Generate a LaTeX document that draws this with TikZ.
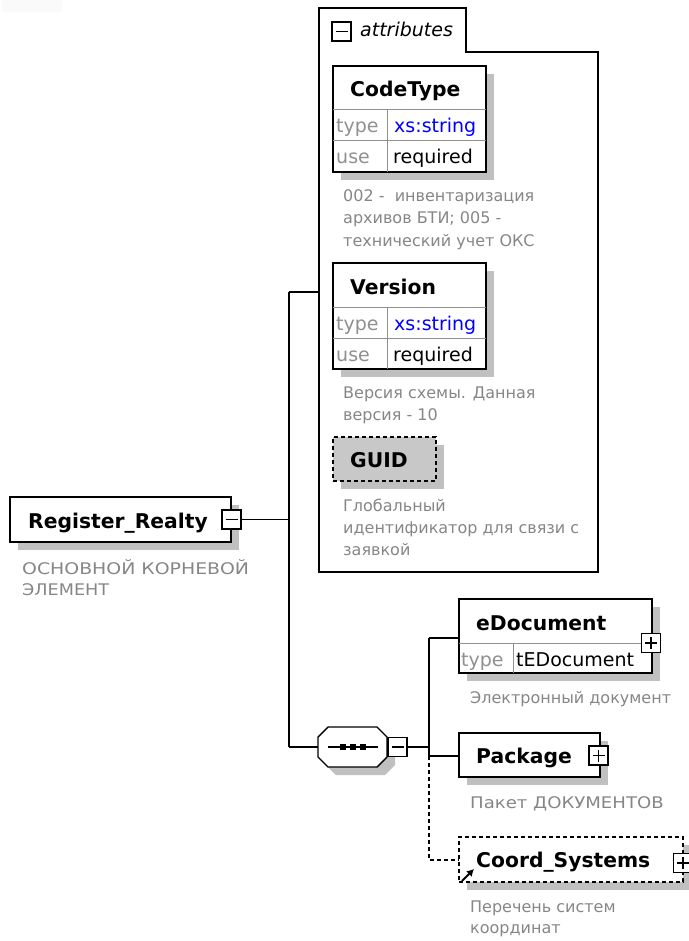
\documentclass[tikz,border=0pt]{standalone}
\usepackage{fontspec}
\setmainfont{DejaVu Sans}
\usetikzlibrary{shadows,arrows.meta}
\definecolor{shadowgray}{HTML}{C0C0C0}
\definecolor{guidgray}{HTML}{C8C8C8}
\definecolor{descgray}{HTML}{868686}
\definecolor{innergray}{HTML}{909090}
\definecolor{typeblue}{HTML}{0000FF}
\definecolor{faint}{HTML}{FAFAFA}
\tikzset{
  shad/.style={drop shadow={shadow xshift=8pt,shadow yshift=-8pt,fill=shadowgray,opacity=1}},
  elbox/.style={draw=black,line width=1.4pt,fill=white,shad,anchor=north west,inner sep=0,outer sep=0},
  optbox/.style={elbox,dash pattern=on 4pt off 3pt},
  guidbox/.style={draw=black,line width=1.4pt,fill=guidgray,shad,anchor=north west,inner sep=0,outer sep=0,dash pattern=on 4pt off 3pt},
  pmbox/.style={draw=black,line width=1.2pt,fill=white,minimum width=19pt,minimum height=19pt,inner sep=0,outer sep=0},
  pmsym/.style={line width=1.2pt},
  conn/.style={line width=1.4pt},
  optconn/.style={line width=1.4pt,dash pattern=on 4pt off 3pt},
  innerln/.style={innergray,line width=1pt},
  lbl/.style={font=\fontsize{20.3}{23}\selectfont\bfseries,anchor=base west,inner sep=0},
  cellg/.style={font=\fontsize{19}{23}\selectfont,text=innergray,anchor=base west,inner sep=0},
  cellv/.style={font=\fontsize{19}{23}\selectfont,anchor=base west,inner sep=0},
  desc/.style={font=\fontsize{16}{22}\selectfont,text=descgray,anchor=base west,inner sep=0},
}
\begin{document}
\begin{tikzpicture}[x=1pt,y=-1pt]
\useasboundingbox (0,0) rectangle (688,941);
\fill[faint] (2,0) rectangle (62,12);

% attributes frame
\draw[line width=1.4pt] (319,572) -- (319,8) -- (466,8) -- (466,52) -- (598,52) -- (598,572) -- cycle;
\node[pmbox] (attrpm) at (341.5,31.5) {};
\draw[pmsym] ([xshift=-6pt]attrpm.center) -- ([xshift=6pt]attrpm.center);
\node[anchor=base west,inner sep=0,font=\fontsize{19}{23}\selectfont\itshape] (attrlbl) at (360,37) {attributes};
\coordinate (attrin) at (319,292);

% CodeType
\node[elbox,minimum width=153pt,minimum height=106pt] (codetype) at (333,66) {};
\draw[innerln] (333,110) -- (486,110) (333,141) -- (486,141) (387,110) -- (387,172);
\node[lbl] (codetypelbl) at (350,97) {CodeType};
\node[cellg] (ct1) at (336,133) {type};
\node[cellv,text=typeblue] (ct2) at (394,133) {xs:string};
\node[cellg] (ct3) at (336,164) {use};
\node[cellv] (ct4) at (393,164) {required};
\node[desc] (ctd1) at (343,202) {002 -~ инвентаризация};
\node[desc] (ctd2) at (343,224) {архивов БТИ; 005 -};
\node[desc] (ctd3) at (343,246) {технический учет ОКС};

% Version
\node[elbox,minimum width=153pt,minimum height=106pt] (version) at (333,263) {};
\draw[innerln] (333,307) -- (486,307) (333,338) -- (486,338) (387,307) -- (387,369);
\node[lbl] (versionlbl) at (350,294) {Version};
\node[cellg] (vt1) at (336,330) {type};
\node[cellv,text=typeblue] (vt2) at (394,330) {xs:string};
\node[cellg] (vt3) at (336,361) {use};
\node[cellv] (vt4) at (393,361) {required};
\node[desc] (vd1) at (343,398) {Версия схемы. Данная};
\node[desc] (vd2) at (343,420) {версия - 10};

% GUID
\node[guidbox,minimum width=103pt,minimum height=44pt] (guid) at (333,437) {};
\node[lbl] (guidlbl) at (350,467) {GUID};
\node[desc] (gd1) at (343,511) {Глобальный};
\node[desc] (gd2) at (343,533) {идентификатор для связи с};
\node[desc] (gd3) at (343,555) {заявкой};

% Register_Realty
\node[elbox,minimum width=221pt,minimum height=45pt] (root) at (10,497) {};
\node[lbl] (rootlbl) at (28,528) {Register\_Realty};
\node[pmbox] (rootpm) at (231.5,519.5) {};
\draw[pmsym] ([xshift=-6pt]rootpm.center) -- ([xshift=6pt]rootpm.center);
\node[desc] (rd1) at (22,574) {\scalebox{1.18}[1]{ОСНОВНОЙ КОРНЕВОЙ}};
\node[desc] (rd2) at (22,595) {\scalebox{1.1}[1]{ЭЛЕМЕНТ}};

% sequence compositor
\node[minimum width=69pt,minimum height=40pt,inner sep=0,outer sep=0] (seq) at (352.5,747) {};
\fill[shadowgray,shift={(8pt,-8pt)}] (328,727) -- (377,727) -- (387,737) -- (387,757) -- (377,767) -- (328,767) -- (318,757) -- (318,737) -- cycle;
\draw[line width=1.4pt,fill=white] (328,727) -- (377,727) -- (387,737) -- (387,757) -- (377,767) -- (328,767) -- (318,757) -- (318,737) -- cycle;
\draw[line width=1.2pt] (328,747) -- (378,747);
\foreach \cx in {343,353,363} \fill (\cx-3,744) rectangle (\cx+3,750);
\node[pmbox] (seqpm) at (397.5,747) {};
\draw[pmsym] ([xshift=-6pt]seqpm.center) -- ([xshift=6pt]seqpm.center);

% eDocument
\node[elbox,minimum width=193pt,minimum height=74pt] (edoc) at (459,599) {};
\draw[innerln] (459,643) -- (652,643) (513,643) -- (513,673);
\node[lbl] (edoclbl) at (476,630) {eDocument};
\node[cellg] (et1) at (461,666) {type};
\node[cellv] (et2) at (516,666) {tEDocument};
\node[pmbox] (edocpm) at (651,643) {};
\draw[pmsym] ([xshift=-6pt]edocpm.center) -- ([xshift=6pt]edocpm.center) ([yshift=-6pt]edocpm.center) -- ([yshift=6pt]edocpm.center);
\node[desc] (ed1) at (470,703) {Электронный документ};

% Package
\node[elbox,minimum width=141pt,minimum height=44pt] (pkg) at (459,733) {};
\node[lbl] (pkglbl) at (476,763) {Package};
\node[pmbox] (pkgpm) at (598.5,755.5) {};
\draw[pmsym] ([xshift=-6pt]pkgpm.center) -- ([xshift=6pt]pkgpm.center) ([yshift=-6pt]pkgpm.center) -- ([yshift=6pt]pkgpm.center);
\node[desc] (pd1) at (470,808) {\scalebox{1.13}[1]{Пакет ДОКУМЕНТОВ}};

% Coord_Systems
\node[optbox,minimum width=224pt,minimum height=45pt] (coord) at (459,837) {};
\node[lbl] (coordlbl) at (476,867) {Coord\_Systems};
\node[pmbox] (coordpm) at (683,863) {};
\draw[pmsym] ([xshift=-6pt]coordpm.center) -- ([xshift=6pt]coordpm.center) ([yshift=-6pt]coordpm.center) -- ([yshift=6pt]coordpm.center);
\draw[line width=2pt,-{Latex[length=7pt,width=8pt]}] (462,881) -- (474,869);
\node[desc] (cd1) at (470,912) {Перечень систем};
\node[desc] (cd2) at (470,933) {координат};

% connectors
\coordinate (bus1top) at (289,292);
\coordinate (bus1mid) at (289,519.5);
\coordinate (bus1bot) at (289,747);
\coordinate (bus2top) at (429,638);
\coordinate (bus2mid) at (429,747);
\coordinate (bus2pkg) at (429,756);
\coordinate (bus2bot) at (429,860);
\draw[conn] (rootpm.east) -- (bus1mid);
\draw[conn] (bus1top) -- (bus1bot);
\draw[conn] (bus1top) -- (attrin);
\draw[conn] (bus1bot) -- (seq.west);
\draw[conn] (seqpm.east) -- (bus2mid);
\draw[conn] (bus2top) -- (bus2pkg);
\draw[conn] (bus2top) -- (edoc.west |- bus2top);
\draw[conn] (bus2pkg) -- (pkg.west |- bus2pkg);
\draw[optconn] (bus2pkg) -- (bus2bot) -- (coord.west |- bus2bot);
\end{tikzpicture}
\end{document}
